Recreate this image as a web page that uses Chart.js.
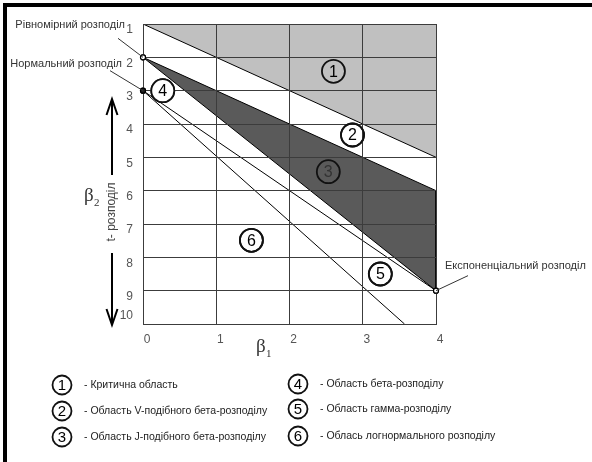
<!DOCTYPE html>
<html>
<head>
<meta charset="utf-8">
<script src="https://cdn.jsdelivr.net/npm/chart.js@4/dist/chart.umd.min.js"></script>
<style>
  html, body { margin: 0; padding: 0; background: #fff; }
  canvas { display: block; }
</style>
</head>
<body>
<canvas id="pearson" width="592" height="462"></canvas>
<script>
// Pearson diagram: beta1 across, beta2 growing downwards
const beta1Ticks = [0, 1, 2, 3, 4];
const beta2Ticks = [1, 2, 3, 4, 5, 6, 7, 8, 9, 10];

// region boundaries
const criticalEdge = [{x: 0, y: 1}, {x: 4, y: 5}];
const jBetaArea = [{x: 0, y: 2}, {x: 4, y: 6}, {x: 4, y: 9}, {x: 0, y: 2}];
const gammaLine = [{x: 0, y: 3}, {x: 4, y: 9}];
const lognormalLine = [{x: 0, y: 3}, {x: 3.57, y: 10}];

// special distributions
const distPoints = [{x: 0, y: 2}, {x: 0, y: 3}, {x: 4, y: 9}];
const distNames = ['Рівномірний розподіл', 'Нормальний розподіл', 'Експоненціальний розподіл'];

// numbered regions
const regionMarks = [
    {x: 2.6, y: 2.42}, {x: 2.86, y: 4.33}, {x: 2.53, y: 5.43},
    {x: 0.27, y: 3}, {x: 3.24, y: 8.5}, {x: 1.48, y: 7.49}
];
const regionNumbers = ['1', '2', '3', '4', '5', '6'];
const regionNames = [
    '- Критична область',
    '- Область V-подібного бета-розподілу',
    '- Область J-подібного бета-розподілу',
    '- Область бета-розподілу',
    '- Область гамма-розподілу',
    '- Облась логнормального розподілу'
];

const xTitle = ['β', '1'];
const yTitle = ['β', '2'];
const yNote = 't- розподіл';

const FONT = "'Liberation Sans', Arial, sans-serif";
const SERIF = "'Liberation Serif', 'DejaVu Serif', serif";
Chart.defaults.font.family = FONT;

const MARKS = 4;
const POINTS = 5;

function line(ctx, x1, y1, x2, y2) {
    ctx.beginPath();
    ctx.moveTo(x1, y1);
    ctx.lineTo(x2, y2);
    ctx.stroke();
}

function circleNo(ctx, cx, cy, r, text, size, color) {
    ctx.beginPath();
    ctx.arc(cx, cy, r, 0, Math.PI * 2);
    ctx.lineWidth = 1.8;
    ctx.strokeStyle = '#111';
    ctx.stroke();
    ctx.fillStyle = color;
    ctx.font = size + 'px ' + FONT;
    ctx.textAlign = 'center';
    ctx.textBaseline = 'middle';
    ctx.fillText(text, cx, cy + 1);
}

const decorPlugin = {
    id: 'decor',
    afterDraw(chart) {
        const {ctx, scales: {x, y}} = chart;
        ctx.save();

        // frame
        ctx.fillStyle = '#000';
        ctx.fillRect(3, 3, 589, 4);
        ctx.fillRect(3, 3, 4, 459);

        // marks go over the grid
        for (const i of [MARKS, POINTS]) {
            chart.getDatasetMeta(i).data.forEach(el => el.draw(ctx));
        }
        regionMarks.forEach((m, i) => {
            ctx.fillStyle = i === 2 ? '#333' : '#000';
            ctx.font = '16px ' + FONT;
            ctx.textAlign = 'center';
            ctx.textBaseline = 'middle';
            ctx.fillText(regionNumbers[i], x.getPixelForValue(m.x), y.getPixelForValue(m.y) + 1);
        });

        // distribution labels with leaders
        const p = distPoints.map(d => ({x: x.getPixelForValue(d.x), y: y.getPixelForValue(d.y)}));
        ctx.strokeStyle = '#333';
        ctx.lineWidth = 1;
        line(ctx, p[0].x - 25, p[0].y - 19, p[0].x, p[0].y);
        line(ctx, p[1].x - 33, p[1].y - 20, p[1].x, p[1].y);
        line(ctx, p[2].x, p[2].y, p[2].x + 32, p[2].y - 15);
        ctx.font = '11px ' + FONT;
        ctx.fillStyle = '#333';
        ctx.textBaseline = 'middle';
        ctx.textAlign = 'right';
        ctx.fillText(distNames[0], p[0].x - 18, p[0].y - 32);
        ctx.fillText(distNames[1], p[1].x - 21, p[1].y - 27);
        ctx.textAlign = 'left';
        ctx.fillText(distNames[2], p[2].x + 9, p[2].y - 25);

        // y title with arrows
        ctx.strokeStyle = '#000';
        ctx.lineWidth = 2;
        line(ctx, 112, 101, 112, 175);
        ctx.beginPath();
        ctx.moveTo(106.5, 115); ctx.lineTo(112, 99); ctx.lineTo(117.5, 115);
        ctx.stroke();
        line(ctx, 112, 253, 112, 323);
        ctx.beginPath();
        ctx.moveTo(106.5, 309); ctx.lineTo(112, 325); ctx.lineTo(117.5, 309);
        ctx.stroke();
        ctx.save();
        ctx.translate(112, 212);
        ctx.rotate(-Math.PI / 2);
        ctx.font = '12px ' + FONT;
        ctx.fillStyle = '#444';
        ctx.textAlign = 'center';
        ctx.textBaseline = 'middle';
        ctx.fillText(yNote, 0, 0);
        ctx.restore();

        ctx.fillStyle = '#333';
        ctx.textAlign = 'left';
        ctx.textBaseline = 'alphabetic';
        ctx.font = '19px ' + SERIF;
        ctx.fillText(yTitle[0], 84, 201);
        ctx.fillText(xTitle[0], 256, 352);
        ctx.font = '11px ' + SERIF;
        ctx.fillText(yTitle[1], 94, 206);
        ctx.fillText(xTitle[1], 266, 357);

        // legend
        const legendPos = [[62, 385], [62, 411], [62, 437], [298, 384], [298, 409], [298, 436]];
        legendPos.forEach(([cx, cy], i) => {
            circleNo(ctx, cx, cy, 9.5, regionNumbers[i], 15, '#000');
            ctx.font = '10.5px ' + FONT;
            ctx.fillStyle = '#222';
            ctx.textAlign = 'left';
            ctx.textBaseline = 'middle';
            ctx.fillText(regionNames[i], cx + 22, cy);
        });

        ctx.restore();
    }
};

const edge = {borderColor: '#000', borderWidth: 1, pointRadius: 0, showLine: true, fill: false};

new Chart(document.getElementById('pearson'), {
    type: 'scatter',
    data: {
        datasets: [
            {...edge, data: criticalEdge, fill: 'end', backgroundColor: '#c0c0c0'},
            {...edge, data: jBetaArea, fill: 'shape', backgroundColor: '#5a5a5a'},
            {...edge, data: gammaLine},
            {...edge, data: lognormalLine},
            {
                data: regionMarks,
                pointRadius: 11.5,
                pointBorderWidth: 1.8,
                pointBorderColor: '#111',
                pointBackgroundColor: ['rgba(0,0,0,0)', 'rgba(0,0,0,0)', 'rgba(0,0,0,0)', '#fff', 'rgba(0,0,0,0)', 'rgba(0,0,0,0)'],
                clip: false
            },
            {
                data: distPoints,
                pointRadius: 2.5,
                pointBorderWidth: 1.2,
                pointBorderColor: '#000',
                pointBackgroundColor: ['#fff', '#222', '#fff'],
                clip: false
            }
        ]
    },
    options: {
        responsive: false,
        animation: false,
        events: [],
        layout: {padding: {left: 113, right: 156, top: 24, bottom: 108}},
        plugins: {legend: {display: false}, tooltip: {enabled: false}},
        scales: {
            x: {
                type: 'linear',
                min: 0,
                max: 4,
                afterBuildTicks: s => { s.ticks = beta1Ticks.map(v => ({value: v})); },
                afterFit: s => { s.height = 30; s.paddingLeft = 0; s.paddingRight = 0; },
                grid: {color: '#3c3c3c', drawTicks: false, z: 1},
                border: {color: '#3c3c3c', z: 1},
                ticks: {color: '#555', font: {size: 12}, padding: 8, labelOffset: 4, autoSkip: false}
            },
            y: {
                type: 'linear',
                min: 1,
                max: 10,
                reverse: true,
                afterBuildTicks: s => { s.ticks = beta2Ticks.map(v => ({value: v})); },
                afterFit: s => { s.width = 30; s.paddingTop = 0; s.paddingBottom = 0; },
                grid: {color: '#3c3c3c', drawTicks: false, z: 1},
                border: {color: '#3c3c3c', z: 1},
                ticks: {
                    color: '#555',
                    font: {size: 12},
                    padding: 10,
                    labelOffset: 6,
                    autoSkip: false,
                    callback: v => v === 10 ? ['10', '', ''] : String(v)
                }
            }
        }
    },
    plugins: [decorPlugin]
});
</script>
</body>
</html>
